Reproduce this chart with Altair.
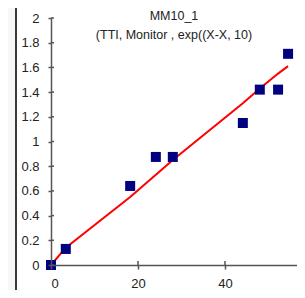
import altair as alt
import pandas as pd

# Observed data (squares)
x_vals = [0, 3.4, 18.2, 24.1, 28.0, 44.1, 48.0, 52.2, 54.5]
y_vals = [0.0, 0.13, 0.64, 0.875, 0.875, 1.15, 1.42, 1.42, 1.71]
# Fitted curve (red line)
fit_x = [0, 3.4, 18.2, 24.1, 28.0, 44.1, 48.0, 52.2, 54.5]
fit_y = [0.0, 0.14, 0.55, 0.73, 0.85, 1.31, 1.43, 1.55, 1.61]
# Titles
title_lines = ["MM10_1", "(TTI, Monitor , exp((X-X, 10)"]
# Ticks
x_ticks = [0, 20, 40]
y_ticks = [0, 0.2, 0.4, 0.6, 0.8, 1.0, 1.2, 1.4, 1.6, 1.8, 2.0]

W, H = 246, 247
FONT = "Liberation Sans"
AX = "#555555"

pts = pd.DataFrame({"x": x_vals, "y": y_vals})
fit = pd.DataFrame({"x": fit_x, "y": fit_y})
one = pd.DataFrame({"d": [0]})

xscale = alt.Scale(domain=[0, 56.55], nice=False, zero=False)
yscale = alt.Scale(domain=[0, 2], nice=False)

xaxis = alt.Axis(values=x_ticks, title=None, grid=False, tickSize=4, labelPadding=8,
                 labelOverlap=False,
                 domainColor=AX, tickColor=AX, domainWidth=1.5, tickWidth=1.5,
                 labelFont=FONT, labelFontSize=13, labelColor="#222", zindex=1)
yaxis = alt.Axis(values=y_ticks, title=None, grid=False, tickSize=3, labelPadding=9,
                 labelOverlap=False, format="~g",
                 domainColor=AX, tickColor=AX, domainWidth=1.5, tickWidth=1.5,
                 labelFont=FONT, labelFontSize=13, labelColor="#222", zindex=1)

X = lambda: alt.X("x:Q", scale=xscale, axis=xaxis)
Y = lambda: alt.Y("y:Q", scale=yscale, axis=yaxis)

frame = alt.Chart(one).mark_rect(fill="white", stroke="#3a3a3a", strokeWidth=2).encode(
    x=alt.value(-35), x2=alt.value(400), y=alt.value(-14), y2=alt.value(400))

line = alt.Chart(fit).mark_line(color="#ff0000", strokeWidth=2).encode(x=X(), y=Y())

squares = alt.Chart(pts).mark_square(color="#000080", size=100, opacity=1).encode(x=X(), y=Y())

ytick_in = alt.Chart(pd.DataFrame({"y": y_ticks})).mark_rule(color=AX, strokeWidth=1.5).encode(
    y=Y(), x=alt.value(0), x2=alt.value(3))
xtick_in = alt.Chart(pd.DataFrame({"x": x_ticks[1:]})).mark_rule(color=AX, strokeWidth=1.5).encode(
    x=X(), y=alt.value(H - 4), y2=alt.value(H))

titles = alt.Chart(pd.DataFrame({"t": title_lines, "dy": [-2, 17]})).mark_text(
    font=FONT, fontSize=12.5, color="#222", baseline="middle", align="center").encode(
    text="t:N", x=alt.value(123), y=alt.Y("dy:Q", scale=None, axis=None))

chart = alt.layer(frame, line, squares, ytick_in, xtick_in, titles).properties(
    width=W, height=H, background="#f7f7f7",
    autosize=alt.AutoSizeParams(type="none"),
    padding={"left": 43, "top": 10, "right": 0, "bottom": 25},
).configure_view(stroke=None)

chart.save("out.html", embed_options={"renderer": "svg", "actions": False})
